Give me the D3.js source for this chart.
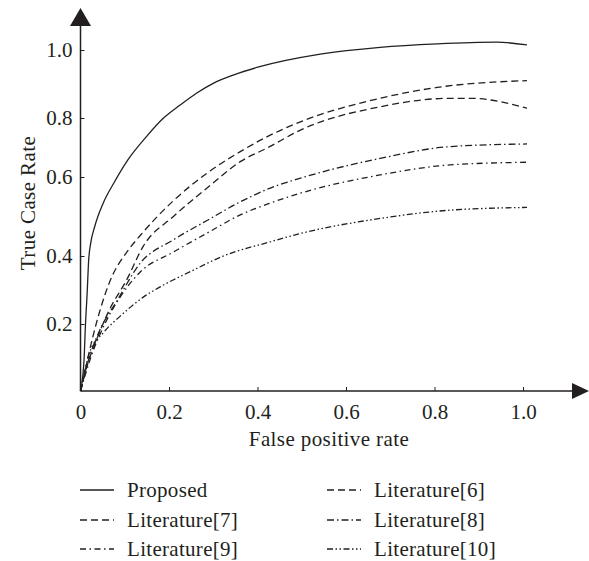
<!DOCTYPE html>
<html>
<head>
<meta charset="utf-8">
<script src="https://cdn.jsdelivr.net/npm/d3@7/dist/d3.min.js"></script>
<style>
  body { margin: 0; background: #fff; }
  svg { display: block; }
  text { font-family: 'Liberation Serif', 'DejaVu Serif', serif; fill: #231f20; }
</style>
</head>
<body>
<div id="chart"></div>
<script>
// values (x = false positive rate, y = true case rate)
const proposed = [[0, 0], [0.005, 0.043], [0.008, 0.093], [0.011, 0.192], [0.015, 0.29], [0.0185, 0.388],
  [0.023, 0.432], [0.032, 0.474], [0.051, 0.533], [0.077, 0.588], [0.107, 0.658], [0.149, 0.737],
  [0.187, 0.799], [0.225, 0.838], [0.262, 0.873], [0.300, 0.902], [0.345, 0.926], [0.405, 0.951],
  [0.542, 0.988], [0.677, 1.008], [0.806, 1.018], [0.941, 1.023], [1.009, 1.015]];
const lit6 = [[0, 0], [0.006, 0.033], [0.017, 0.101], [0.036, 0.203], [0.065, 0.321], [0.108, 0.415],
  [0.135, 0.452], [0.210, 0.540], [0.286, 0.613], [0.361, 0.686], [0.421, 0.736], [0.497, 0.787],
  [0.677, 0.858], [0.806, 0.890], [1.009, 0.910]];
const lit7 = [[0, 0], [0.017, 0.084], [0.036, 0.152], [0.065, 0.241], [0.104, 0.329], [0.142, 0.425],
  [0.210, 0.500], [0.286, 0.572], [0.361, 0.652], [0.424, 0.700], [0.497, 0.759], [0.677, 0.833],
  [0.835, 0.858], [0.880, 0.858], [1.009, 0.829]];
const lit8 = [[0, 0], [0.020, 0.101], [0.047, 0.191], [0.081, 0.265], [0.135, 0.379], [0.210, 0.441],
  [0.286, 0.490], [0.361, 0.537], [0.429, 0.572], [0.497, 0.597], [0.677, 0.663], [0.835, 0.703],
  [1.009, 0.712]];
const lit9 = [[0, 0], [0.023, 0.099], [0.056, 0.203], [0.090, 0.280], [0.135, 0.353], [0.210, 0.410],
  [0.286, 0.458], [0.361, 0.504], [0.429, 0.534], [0.497, 0.559], [0.677, 0.607], [0.835, 0.641],
  [1.009, 0.650]];
const lit10 = [[0, 0], [0.020, 0.113], [0.051, 0.173], [0.088, 0.221], [0.142, 0.279], [0.181, 0.310],
  [0.248, 0.354], [0.321, 0.399], [0.429, 0.436], [0.497, 0.457], [0.677, 0.495], [0.835, 0.516],
  [1.009, 0.523]];

const seriesNames = ['Proposed', 'Literature[6]', 'Literature[7]', 'Literature[8]', 'Literature[9]', 'Literature[10]'];
const seriesData = [proposed, lit6, lit7, lit8, lit9, lit10];
const xTicks = [0, 0.2, 0.4, 0.6, 0.8, 1.0];
const yTicks = [0.2, 0.4, 0.6, 0.8, 1.0];
const yStops = [0, 0.2, 0.4, 0.6, 0.8, 1.0];

const dashes = ['none', '7,4', '7,4', '7,3,1.5,3', '6,3.5,1.5,3.5', '6,2.5,1.5,2.5,1.5,2.5'];
// legend order: left column then right column, row by row
const legendCol = [0, 1, 0, 1, 0, 1];
const legendRow = [0, 0, 1, 1, 2, 2];

const width = 589, height = 561;
const ink = '#231f20';
const fontSize = 21;

const svg = d3.select('#chart').append('svg')
  .attr('width', width)
  .attr('height', height);

const x = d3.scaleLinear().domain([0, 1]).range([80.5, 523]);
// the printed axis has uneven tick spacing, so map it piecewise
const y = d3.scaleLinear().domain(yStops).range([391, 324, 256, 177, 118, 50]);

/* AXES */
const axisG = svg.append('g').attr('class', 'axes');

axisG.append('line')
  .attr('x1', x(0)).attr('x2', 574)
  .attr('y1', y(0)).attr('y2', y(0))
  .attr('stroke', ink).attr('stroke-width', 1.5);
axisG.append('path')
  .attr('d', `M572,${y(0) - 8} L589,${y(0)} L572,${y(0) + 8} Z`)
  .attr('fill', ink);

axisG.append('line')
  .attr('x1', x(0)).attr('x2', x(0))
  .attr('y1', y(0)).attr('y2', 24)
  .attr('stroke', ink).attr('stroke-width', 1.5);
axisG.append('path')
  .attr('d', `M${x(0) - 10.5},26 L${x(0)},8 L${x(0) + 10.5},26 Z`)
  .attr('fill', ink);

const xAxis = d3.axisBottom(x)
  .tickValues(xTicks)
  .tickSizeInner(-4)
  .tickSizeOuter(0)
  .tickPadding(13)
  .tickFormat((d) => (d === 0 ? '0' : d3.format('.1f')(d)));

const gx = axisG.append('g')
  .attr('transform', `translate(0,${y(0)})`)
  .call(xAxis);
gx.select('.domain').remove();
gx.selectAll('.tick line').attr('stroke', ink).attr('stroke-width', 1)
  .filter((d) => d === 0).remove();
gx.selectAll('.tick text')
  .attr('font-size', fontSize)
  .attr('font-family', "'Liberation Serif', serif")
  .attr('fill', ink);

const yAxis = d3.axisLeft(y)
  .tickValues(yTicks)
  .tickSizeInner(-4)
  .tickSizeOuter(0)
  .tickPadding(8)
  .tickFormat(d3.format('.1f'));

const gy = axisG.append('g')
  .attr('transform', `translate(${x(0)},0)`)
  .call(yAxis);
gy.select('.domain').remove();
gy.selectAll('.tick line').attr('stroke', ink).attr('stroke-width', 1);
gy.selectAll('.tick text')
  .attr('font-size', fontSize)
  .attr('font-family', "'Liberation Serif', serif")
  .attr('fill', ink);

svg.append('text')
  .attr('x', 329)
  .attr('y', 446)
  .attr('text-anchor', 'middle')
  .attr('font-size', fontSize)
  .attr('letter-spacing', 0.4)
  .text('False positive rate');

svg.append('text')
  .attr('transform', 'translate(35,203) rotate(-90)')
  .attr('text-anchor', 'middle')
  .attr('font-size', fontSize)
  .attr('letter-spacing', 0.4)
  .text('True Case Rate');

/* CURVES */
const line = d3.line()
  .x((d) => x(d[0]))
  .y((d) => y(d[1]))
  .curve(d3.curveMonotoneX);

svg.append('g').attr('class', 'curves')
  .selectAll('path')
  .data(seriesData)
  .enter()
  .append('path')
  .attr('d', (d) => line(d))
  .attr('fill', 'none')
  .attr('stroke', ink)
  .attr('stroke-width', 1.3)
  .attr('stroke-dasharray', (d, i) => dashes[i]);

/* LEGEND */
const colX = [80, 327];
const rowY = [490, 520, 549];

const legend = svg.append('g').attr('class', 'legend')
  .selectAll('g')
  .data(seriesNames)
  .enter()
  .append('g')
  .attr('transform', (d, i) => `translate(${colX[legendCol[i]]},${rowY[legendRow[i]]})`);

legend.append('line')
  .attr('x1', 0).attr('x2', 34)
  .attr('y1', 0).attr('y2', 0)
  .attr('stroke', ink)
  .attr('stroke-width', 1.3)
  .attr('stroke-dasharray', (d, i) => dashes[i]);

legend.append('text')
  .attr('x', 47)
  .attr('y', 7)
  .attr('font-size', fontSize)
  .attr('letter-spacing', 0.3)
  .text((d) => d);
</script>
</body>
</html>
